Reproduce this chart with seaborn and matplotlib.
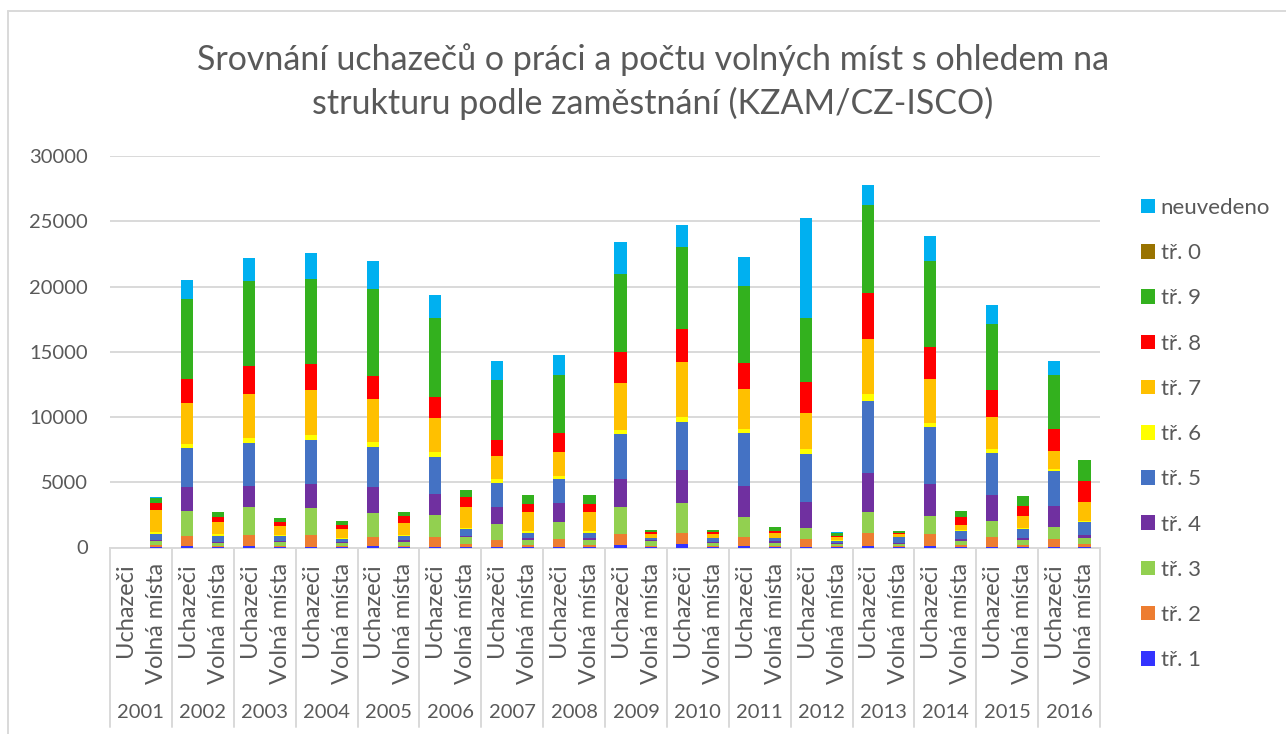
import numpy as np
import matplotlib
matplotlib.use("Agg")
import matplotlib.pyplot as plt
from matplotlib.patches import Patch
from matplotlib.lines import Line2D
import seaborn as sns

years = [str(y) for y in range(2001, 2017)]
kinds = ["Uchazeči", "Volná místa"]

series_names = ["tř. 1", "tř. 2", "tř. 3", "tř. 4", "tř. 5", "tř. 6",
                "tř. 7", "tř. 8", "tř. 9", "tř. 0", "neuvedeno"]
series_colors = ["#3333FF", "#ED7D31", "#92D050", "#7030A0", "#4472C4", "#FFFF00",
                 "#FFC000", "#FF0000", "#33B11E", "#997300", "#00B0F0"]

# values per category: 2001 Uchazeči, 2001 Volná místa, 2002 Uchazeči, ...
tr1 = [0, 30, 128, 20, 112, 10, 60, 10, 112, 10, 60, 60, 60, 35, 60, 35,
       188, 10, 265, 10, 138, 10, 60, 10, 111, 10, 111, 33, 60, 10, 60, 35]
tr2 = [0, 130, 716, 128, 818, 112, 870, 112, 716, 128, 741, 180, 512, 153, 563, 153,
       819, 128, 870, 128, 690, 110, 561, 110, 1022, 100, 895, 154, 767, 204, 614, 230]
tr3 = [0, 330, 1969, 230, 2173, 305, 2097, 256, 1841, 306, 1687, 588, 1202, 410, 1330, 410,
       2122, 357, 2250, 230, 1534, 253, 845, 151, 1560, 155, 1406, 333, 1202, 359, 895, 460]
tr4 = [0, 100, 1811, 77, 1637, 77, 1815, 51, 1943, 128, 1637, 77, 1355, 102, 1432, 102,
       2097, 60, 2557, 77, 2378, 154, 2046, 102, 2992, 51, 2430, 128, 1969, 127, 1585, 205]
tr5 = [0, 410, 2996, 435, 3298, 411, 3376, 256, 3119, 307, 2813, 520, 1841, 435, 1866, 435,
       3452, 154, 3682, 256, 4015, 181, 3656, 154, 5575, 460, 4372, 639, 3273, 745, 2684, 1022]
tr6 = [0, 180, 317, 128, 358, 76, 383, 51, 333, 51, 383, 100, 256, 128, 230, 128,
       332, 40, 409, 40, 306, 30, 358, 30, 485, 30, 307, 40, 281, 50, 154, 50]
tr7 = [0, 1690, 3144, 920, 3401, 691, 3503, 690, 3324, 921, 2634, 1551, 1815, 1457, 1816, 1457,
       3605, 307, 4219, 307, 3120, 385, 2813, 233, 4245, 230, 3401, 435, 2429, 946, 1432, 1483]
tr8 = [0, 560, 1841, 435, 2122, 306, 1995, 281, 1790, 537, 1611, 792, 1202, 588, 1457, 588,
       2404, 100, 2480, 103, 1943, 153, 2378, 128, 3503, 102, 2480, 562, 2097, 741, 1688, 1611]
tr9 = [0, 380, 6111, 332, 6470, 256, 6494, 333, 6623, 306, 5983, 547, 4603, 690, 4449, 690,
       5958, 205, 6290, 204, 5882, 333, 4858, 205, 6725, 154, 6546, 461, 5063, 741, 4091, 1585]
tr0 = [0] * 32
neuvedeno = [0, 30, 1483, 0, 1790, 0, 1969, 0, 2122, 0, 1816, 0, 1432, 0, 1533, 0,
             2429, 0, 1660, 0, 2224, 0, 7671, 30, 1534, 0, 1943, 0, 1432, 0, 1074, 0]

series_values = [tr1, tr2, tr3, tr4, tr5, tr6, tr7, tr8, tr9, tr0, neuvedeno]

title_lines = ["Srovnání uchazečů o práci a počtu volných míst s ohledem na",
               "strukturu podle zaměstnání (KZAM/CZ-ISCO)"]

sns.set_theme(style="white")
plt.rcParams["font.family"] = ["Lato", "DejaVu Sans"]
TXT = "#595959"
GRID = "#D9D9D9"

W, H = 1286, 734
fig = plt.figure(figsize=(W / 100, H / 100), dpi=100)
ax_l, ax_r, ax_t, ax_b = 110, 1100, 156, 547.5
ax = fig.add_axes([ax_l / W, 1 - ax_b / H, (ax_r - ax_l) / W, (ax_b - ax_t) / H])

cats = [f"{y} {k}" for y in years for k in kinds]
cum = np.cumsum(np.array(series_values, dtype=float), axis=0)

for i in range(len(series_names) - 1, -1, -1):
    sns.barplot(x=cats, y=cum[i], color=series_colors[i], saturation=1,
                width=0.39, linewidth=0, errorbar=None, ax=ax, zorder=3)

ax.set_xlim(-0.5, len(cats) - 0.5)
ax.set_ylim(0, 30000)
ax.set_yticks(range(0, 30001, 5000))
ax.yaxis.grid(True, color=GRID, linewidth=1.4, zorder=0)
ax.set_axisbelow(True)
for s in ["top", "right", "left"]:
    ax.spines[s].set_visible(False)
ax.spines["bottom"].set_color(GRID)
ax.spines["bottom"].set_linewidth(1.4)
ax.tick_params(axis="y", length=0, pad=16, labelsize=14.5, labelcolor=TXT)
ax.tick_params(axis="x", length=0)
ax.set_xticks(range(len(cats)))
ax.set_xticklabels([])
ax.set_xlabel("")
ax.set_ylabel("")

tr = ax.get_xaxis_transform()
h_ax = ax_b - ax_t
y_cat = -(563 - ax_b) / h_ax
y_year = -(712 - ax_b) / h_ax
y_sep = -(727 - ax_b) / h_ax
for j, c in enumerate(cats):
    ax.text(j, y_cat, kinds[j % 2], rotation=90, ha="center", va="top",
            transform=tr, fontsize=17, color=TXT)
for k, y in enumerate(years):
    ax.text(2 * k + 0.5, y_year, y, ha="center", va="center",
            transform=tr, fontsize=14.5, color=TXT)
for k in range(len(years) + 1):
    ax.plot([2 * k - 0.5, 2 * k - 0.5], [0, y_sep], transform=tr, color=GRID,
            linewidth=1.4, clip_on=False)

# outer chart frame
fig.add_artist(Line2D([8 / W, 8 / W], [0, 1 - 11 / H], color=GRID, linewidth=1.4))
fig.add_artist(Line2D([8 / W, 1], [1 - 11 / H, 1 - 11 / H], color=GRID, linewidth=1.4))

fig.text(653 / W, 1 - 60 / H, title_lines[0], ha="center", va="center",
         fontsize=24.5, color=TXT)
fig.text(653 / W, 1 - 103 / H, title_lines[1], ha="center", va="center",
         fontsize=24.5, color=TXT)

handles = [Patch(facecolor=series_colors[i], edgecolor="none", label=series_names[i])
           for i in range(len(series_names) - 1, -1, -1)]
fig.legend(handles=handles, loc="upper left", bbox_to_anchor=(1141 / W, 1 - 198 / H),
           frameon=False, fontsize=16, labelcolor=TXT, handlelength=0.63,
           handleheight=0.63, handletextpad=0.25, labelspacing=1.135,
           borderpad=0, borderaxespad=0)

fig.savefig("out.png", dpi=100, facecolor="white")
